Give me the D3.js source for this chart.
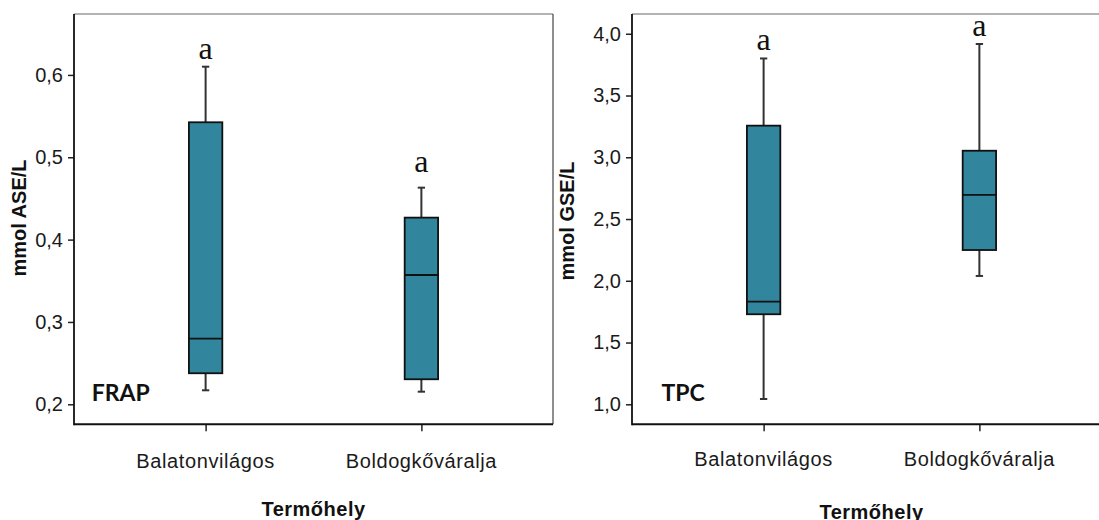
<!DOCTYPE html>
<html>
<head>
<meta charset="utf-8">
<script src="https://cdn.jsdelivr.net/npm/d3@7"></script>
<style>
  body { margin: 0; background: #fff; }
  svg { display: block; }
</style>
</head>
<body>
<div id="chart"></div>
<script>
const categories = ["Balatonvilágos", "Boldogkőváralja"];

// five-number summaries: [min, q1, median, q3, max]
const frapBoxes = [
  [0.217, 0.2377, 0.2797, 0.5425, 0.610],
  [0.2153, 0.2304, 0.357, 0.4267, 0.4631]
];
const tpcBoxes = [
  [1.043, 1.729, 1.831, 3.256, 3.80],
  [2.039, 2.249, 2.695, 3.053, 3.917]
];

const frapTicks = [0.2, 0.3, 0.4, 0.5, 0.6];
const tpcTicks = [1.0, 1.5, 2.0, 2.5, 3.0, 3.5, 4.0];

// significance letters and the value they sit at
const frapLetters = ["a", "a"];
const frapLetterAt = [0.619, 0.482];
const tpcLetters = ["a", "a"];
const tpcLetterAt = [3.869, 3.982];

const W = 1099, H = 520;
const svg = d3.select("#chart").append("svg")
  .attr("width", W)
  .attr("height", H);

const boxFill = "#31859c";
const sans = "'Liberation Sans', Arial, sans-serif";

function drawPanel(p) {
  const g = svg.append("g");
  const top = 14, bottom = 424.3;

  const x = d3.scalePoint()
    .domain(categories)
    .range([p.left, p.left + 479])
    .padding(0.61);

  const y = d3.scaleLinear()
    .domain(p.domain)
    .range([bottom, top]);

  // frame: grey top/right, dark left/bottom
  g.append("line")
    .attr("x1", p.left).attr("x2", p.left + 479)
    .attr("y1", top).attr("y2", top)
    .attr("stroke", "#9a9a9a").attr("stroke-width", 1.6);
  g.append("line")
    .attr("x1", p.left + 479).attr("x2", p.left + 479)
    .attr("y1", top).attr("y2", bottom)
    .attr("stroke", "#444").attr("stroke-width", 1.2);

  const yAxis = g.append("g")
    .attr("transform", `translate(${p.left},0)`)
    .call(d3.axisLeft(y)
      .tickValues(p.ticks)
      .tickSize(6)
      .tickPadding(5)
      .tickFormat(d => d3.format(".1f")(d).replace(".", ",")));
  yAxis.select(".domain").remove();
  yAxis.selectAll(".tick line").attr("stroke", "#222").attr("stroke-width", 1.5);
  yAxis.selectAll(".tick text")
    .attr("font-family", sans)
    .attr("font-size", "20px")
    .attr("fill", "#1a1a1a");

  const xAxis = g.append("g")
    .attr("transform", `translate(0,${bottom})`)
    .call(d3.axisBottom(x).tickSize(7).tickPadding(0).tickFormat(""));
  xAxis.select(".domain").remove();
  xAxis.selectAll(".tick line").attr("stroke", "#222").attr("stroke-width", 1.5);

  g.append("line")
    .attr("x1", p.left).attr("x2", p.left)
    .attr("y1", top).attr("y2", bottom + 1)
    .attr("stroke", "#111").attr("stroke-width", 1.8);
  g.append("line")
    .attr("x1", p.left).attr("x2", p.left + 479)
    .attr("y1", bottom).attr("y2", bottom)
    .attr("stroke", "#111").attr("stroke-width", 2);

  g.selectAll(".cat")
    .data(categories)
    .enter()
    .append("text")
    .attr("class", "cat")
    .attr("x", d => x(d))
    .attr("y", p.catY)
    .attr("text-anchor", "middle")
    .attr("font-family", sans)
    .attr("font-size", "20px")
    .attr("letter-spacing", "0.6px")
    .attr("fill", "#1a1a1a")
    .text(d => d);

  const bw = 33.4, cap = 7.3;
  const boxes = g.selectAll(".box")
    .data(p.boxes)
    .enter()
    .append("g")
    .attr("class", "box")
    .attr("transform", (d, i) => `translate(${x(categories[i])},0)`);

  boxes.append("line")
    .attr("y1", d => y(d[0])).attr("y2", d => y(d[4]))
    .attr("stroke", "#333").attr("stroke-width", 2);
  boxes.append("line")
    .attr("x1", -cap / 2).attr("x2", cap / 2)
    .attr("y1", d => y(d[0])).attr("y2", d => y(d[0]))
    .attr("stroke", "#333").attr("stroke-width", 2);
  boxes.append("line")
    .attr("x1", -cap / 2).attr("x2", cap / 2)
    .attr("y1", d => y(d[4])).attr("y2", d => y(d[4]))
    .attr("stroke", "#333").attr("stroke-width", 2);
  boxes.append("rect")
    .attr("x", -bw / 2)
    .attr("width", bw)
    .attr("y", d => y(d[3]))
    .attr("height", d => y(d[1]) - y(d[3]))
    .attr("fill", boxFill)
    .attr("stroke", "#111")
    .attr("stroke-width", 1.8);
  boxes.append("line")
    .attr("x1", -bw / 2).attr("x2", bw / 2)
    .attr("y1", d => y(d[2])).attr("y2", d => y(d[2]))
    .attr("stroke", "#111").attr("stroke-width", 1.8);

  g.selectAll(".letter")
    .data(p.letters)
    .enter()
    .append("text")
    .attr("class", "letter")
    .attr("x", (d, i) => x(categories[i]))
    .attr("y", (d, i) => y(p.letterAt[i]))
    .attr("text-anchor", "middle")
    .attr("font-family", "'Liberation Serif', 'Times New Roman', serif")
    .attr("font-size", "32px")
    .attr("fill", "#111")
    .text(d => d);

  g.append("text")
    .attr("x", p.tagX)
    .attr("y", 400.7)
    .attr("font-family", "Lato, 'Open Sans', sans-serif")
    .attr("font-weight", "bold")
    .attr("font-size", "23px")
    .attr("fill", "#111")
    .text(p.tag);

  g.append("text")
    .attr("transform", `translate(${p.titleX},${p.titleY}) rotate(-90)`)
    .attr("text-anchor", "middle")
    .attr("font-family", sans)
    .attr("font-weight", "bold")
    .attr("font-size", "20px")
    .attr("fill", "#111")
    .text(p.yTitle);

  g.append("text")
    .attr("x", p.left + 479 / 2)
    .attr("y", p.xTitleY)
    .attr("text-anchor", "middle")
    .attr("font-family", sans)
    .attr("font-weight", "bold")
    .attr("font-size", "20px")
    .attr("letter-spacing", "0.5px")
    .attr("fill", "#111")
    .text("Termőhely");
}

drawPanel({
  left: 74,
  domain: [0.1757, 0.674],
  ticks: frapTicks,
  boxes: frapBoxes,
  letters: frapLetters,
  letterAt: frapLetterAt,
  tag: "FRAP",
  tagX: 91.7,
  yTitle: "mmol ASE/L",
  titleX: 26,
  titleY: 218,
  catY: 468,
  xTitleY: 516
});

drawPanel({
  left: 632,
  domain: [0.838, 4.160],
  ticks: tpcTicks,
  boxes: tpcBoxes,
  letters: tpcLetters,
  letterAt: tpcLetterAt,
  tag: "TPC",
  tagX: 661.4,
  yTitle: "mmol GSE/L",
  titleX: 574,
  titleY: 221,
  catY: 466,
  xTitleY: 518.5
});
</script>
</body>
</html>
